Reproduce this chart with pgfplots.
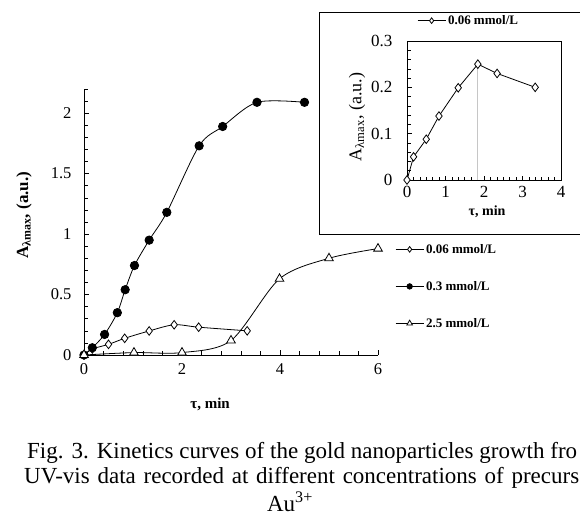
\documentclass[border=0pt]{standalone}
\usepackage{fontspec}
\setmainfont{Liberation Serif}
\usepackage{pgfplots}
\usepackage{pgfplotstable}
\pgfplotsset{compat=1.18}

% kinetics data, tau (min) vs absorbance (a.u.)
\pgfplotstableread{
t A
0    0
0.17 0.05
0.50 0.088
0.83 0.138
1.33 0.199
1.84 0.25
2.34 0.23
3.33 0.20
}\lowconc
\pgfplotstableread{
t A
0    0
0.17 0.06
0.42 0.17
0.68 0.35
0.84 0.54
1.03 0.74
1.33 0.95
1.69 1.18
2.35 1.73
2.83 1.89
3.53 2.09
4.50 2.09
}\midconc
\pgfplotstableread{
t A
0    0
1.02 0.02
2.00 0.02
3.00 0.12
3.99 0.63
5.00 0.80
6.00 0.88
}\highconc

\pgfplotsset{
  legimg/.style={legend image code/.code={%
    \draw[mark repeat=2,mark phase=2,every mark/.append style={scale=0.65}]
      plot coordinates {(0bp,0bp)(14bp,0bp)(28bp,0bp)};}},
}

\begin{document}
\begin{tikzpicture}
\useasboundingbox (0,0) rectangle (580bp,-517bp);
\clip (0,0) rectangle (580bp,-517bp);

\begin{axis}[
  at={(84bp,-355bp)}, anchor=south west,
  scale only axis, width=294bp, height=266bp,
  xmin=0, xmax=6, ymin=0, ymax=2.2,
  axis x line=bottom, axis y line=left,
  axis line style={-, line width=0.8pt},
  tick align=inside,
  xtick={0,2,4,6},
  minor xtick={0.4,0.8,1.2,1.6,2.4,2.8,3.2,3.6,4.4,4.8,5.2,5.6},
  ytick={0,0.5,1,1.5,2},
  minor ytick={0.1,0.2,0.3,0.4,0.6,0.7,0.8,0.9,1.1,1.2,1.3,1.4,1.6,1.7,1.8,1.9,2.1,2.2},
  major tick length=5bp, minor tick length=4.5bp,
  every tick/.style={black, line width=0.6pt},
  tick label style={font=\fontsize{16.5bp}{18bp}\selectfont},
  yticklabel style={xshift=-9bp},
  xticklabel style={yshift=-5bp},
  /pgf/number format/assume math mode=true,
  xlabel={\bfseries τ, min},
  xlabel style={at={(axis description cs:0.429,-0.185)}, anchor=center,
    font=\fontsize{15bp}{17bp}\selectfont},
  ylabel={A\textsubscript{λmax}, (a.u.)},
  ylabel style={at={(axis description cs:-0.204,0.526)}, anchor=center, rotate=0,
    font=\bfseries\fontsize{17bp}{19bp}\selectfont},
  clip=false,
  legend cell align=left,
  legend style={at={(1.058,0.425)}, anchor=north west, draw=none, fill=none,
    inner sep=0pt, row sep=22.5bp,
    font=\bfseries\fontsize{13bp}{15bp}\selectfont},
  legimg,
]
\addplot[black, line width=0.8pt, smooth, mark=diamond*, mark size=4.3bp,
  mark options={fill=white}] table[x=t,y=A] {\lowconc};
\addlegendentry{0.06 mmol/L}
\addplot[black, line width=0.8pt, smooth, mark=*, mark size=4.2bp]
  table[x=t,y=A] {\midconc};
\addlegendentry{0.3 mmol/L}
\addplot[black, line width=0.8pt, smooth, mark=triangle*, mark size=5bp,
  mark options={fill=white}] table[x=t,y=A] {\highconc};
\addlegendentry{2.5 mmol/L}
\end{axis}

% inset frame
\draw[line width=0.9pt, fill=white] (319bp,-12bp) rectangle (600bp,-234bp);

\begin{axis}[
  at={(407bp,-180bp)}, anchor=south west,
  scale only axis, width=154bp, height=139bp,
  xmin=0, xmax=4, ymin=0, ymax=0.3,
  axis line style={line width=0.8pt},
  tick align=inside, tick pos=left,
  xtick={0,1,2,3,4}, minor x tick num=5,
  ytick={0,0.1,0.2,0.3}, minor y tick num=4,
  major tick length=4.5bp, minor tick length=3.5bp,
  every tick/.style={black, line width=0.6pt},
  tick label style={font=\fontsize{17bp}{19bp}\selectfont},
  yticklabel style={xshift=-11bp},
  xticklabel style={yshift=-3bp},
  /pgf/number format/assume math mode=true,
  xlabel={\bfseries τ, min},
  xlabel style={at={(axis description cs:0.52,-0.23)}, anchor=center,
    font=\fontsize{14bp}{16bp}\selectfont},
  ylabel={A\textsubscript{λmax}, (a.u.)},
  ylabel style={at={(axis description cs:-0.325,0.453)}, anchor=center,
    font=\fontsize{18bp}{20bp}\selectfont},
  clip=false,
  legend style={at={(0.065,1.2)}, anchor=north west, draw=none, fill=none,
    inner sep=0pt, font=\bfseries\fontsize{13bp}{15bp}\selectfont},
  legimg,
]
\addplot[gray!45, line width=0.7pt, forget plot] coordinates {(1.84,0) (1.84,0.25)};
\addplot[black, line width=0.8pt, mark=diamond*, mark size=4.3bp,
  mark options={fill=white}] table[x=t,y=A] {\lowconc};
\addlegendentry{0.06 mmol/L}
\end{axis}

% caption (cropped at the right edge as in the source figure)
\begin{scope}[font=\fontsize{23bp}{25bp}\selectfont]
\node[anchor=west, inner sep=0pt] at (27bp,-453bp)
  {\makebox[550bp][s]{Fig. 3. Kinetics curves of the gold nanoparticles growth fro}};
\node[anchor=west, inner sep=0pt] at (24bp,-478bp)
  {\makebox[555bp][s]{UV-vis data recorded at different concentrations of precurs}};
\node[inner sep=0pt] at (290bp,-502bp) {Au\textsuperscript{3+}};
\end{scope}
\end{tikzpicture}
\end{document}
